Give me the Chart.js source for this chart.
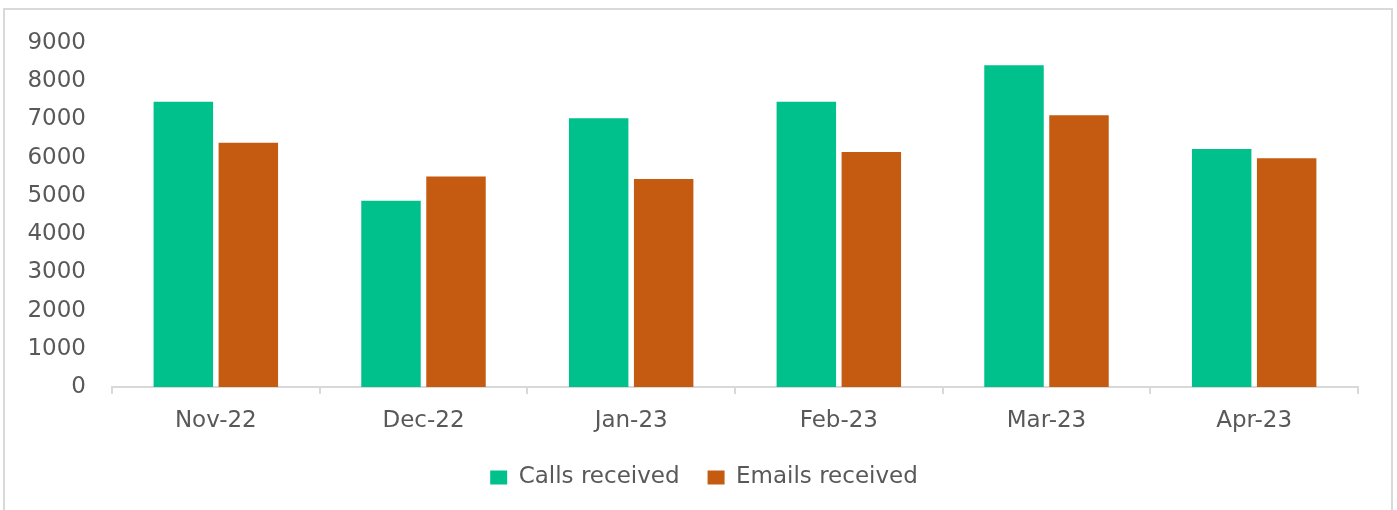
<!DOCTYPE html>
<html>
<head>
<meta charset="utf-8">
<script src="https://cdn.jsdelivr.net/npm/chart.js@4.4.1/dist/chart.umd.min.js"></script>
<style>
  html, body { margin: 0; padding: 0; background: #fff; }
  #wrap { position: relative; width: 1397px; height: 510px; overflow: hidden; }
  #frame { position: absolute; left: 3px; top: 8px; width: 1386px; height: 520px; border: 2px solid #d9d9d9; box-sizing: content-box; pointer-events: none; }
  canvas { position: absolute; left: 0; top: 0; }
</style>
</head>
<body>
<div id="wrap">
  <div id="frame"></div>
  <canvas id="c" width="1397" height="510"></canvas>
</div>
<script>
const categories = ["Nov-22", "Dec-22", "Jan-23", "Feb-23", "Mar-23", "Apr-23"];
const callsReceived = [7460, 4870, 7030, 7460, 8420, 6225];
const emailsReceived = [6390, 5510, 5445, 6150, 7110, 5985];
const yTicks = [0, 1000, 2000, 3000, 4000, 5000, 6000, 7000, 8000, 9000];

const FONT = "'DejaVu Sans', sans-serif";
const TEXT = "#595959";

const shiftLegend = {
  id: "shiftLegend",
  afterLayout(chart) {
    if (chart.legend) { chart.legend.left += 25; chart.legend.right += 25; }
  }
};

new Chart(document.getElementById("c"), {
  type: "bar",
  data: {
    labels: categories,
    datasets: [
      { label: "Calls received", data: callsReceived, backgroundColor: "#00C08C", borderWidth: 0,
        categoryPercentage: 0.626, barPercentage: 0.915 },
      { label: "Emails received", data: emailsReceived, backgroundColor: "#C55A11", borderWidth: 0,
        categoryPercentage: 0.626, barPercentage: 0.915 }
    ]
  },
  plugins: [shiftLegend],
  options: {
    responsive: false,
    animation: false,
    layout: { padding: { top: 43, right: 39, left: 0, bottom: 11 } },
    plugins: {
      tooltip: { enabled: false },
      legend: {
        position: "bottom",
        labels: {
          color: TEXT,
          font: { family: FONT, size: 23 },
          boxWidth: 17,
          boxHeight: 14,
          padding: 28
        }
      }
    },
    scales: {
      x: {
        grid: { display: true, drawOnChartArea: false, drawTicks: true, tickLength: 7, color: "#d9d9d9", lineWidth: 2, offset: true },
        border: { display: true, color: "#d9d9d9", width: 2 },
        ticks: { color: TEXT, font: { family: FONT, size: 23 }, padding: 13, maxRotation: 0 },
        afterFit: (s) => { s.height = 51; }
      },
      y: {
        min: 0, max: 9000,
        afterBuildTicks: (s) => { s.ticks = yTicks.map(v => ({ value: v })); },
        grid: { display: false, drawTicks: false },
        border: { display: false },
        ticks: { color: TEXT, font: { family: FONT, size: 23 }, padding: 26, callback: (v) => String(v) },
        afterFit: (s) => { s.width = 112; }
      }
    }
  }
});
</script>
</body>
</html>
